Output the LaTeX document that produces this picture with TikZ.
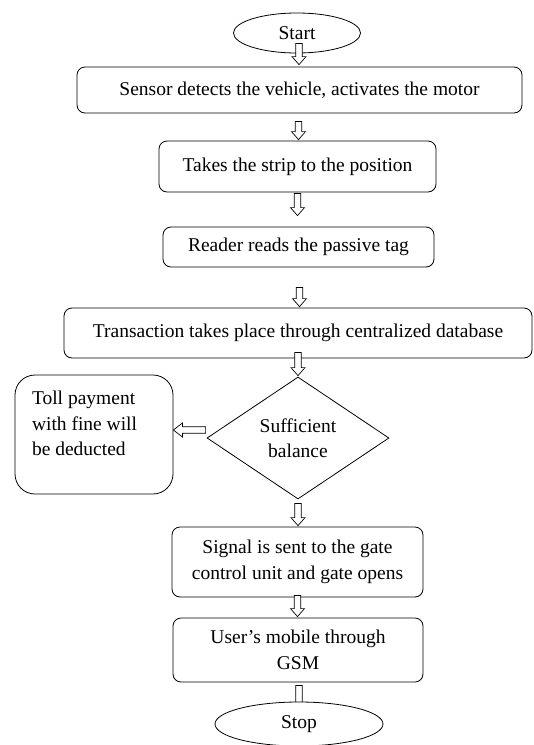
\documentclass[tikz,border=0pt]{standalone}
\usepackage{fontspec}
\setmainfont{Liberation Serif}
\usetikzlibrary{shapes.geometric,calc}
\pgfdeclarelayer{behind}
\pgfsetlayers{behind,main}

\begin{document}
\begin{tikzpicture}[x=1pt,y=-1pt,line width=0.8pt,
  every node/.style={font=\fontsize{19.5}{25.5}\selectfont},
  procbox/.style={draw, rounded corners=8pt, align=center, inner sep=0pt, fill=white},
  terminal/.style={draw, ellipse, inner sep=0pt, fill=white},
  decision/.style={draw, diamond, inner sep=0pt, align=center, fill=white},
  notebox/.style={draw, rounded corners=20pt, inner xsep=17pt, inner ysep=16pt, fill=white},
  downarrow/.style={draw, fill=white, line width=0.7pt,
    to path={let \p1=(\tikztostart), \p2=(\tikztotarget) in
      (\x1-3.2pt,\y1) -- (\x1+3.2pt,\y1) -- (\x1+3.2pt,\y2+8pt) -- (\x1+7pt,\y2+8pt)
      -- (\x1,\y2) -- (\x1-7pt,\y2+8pt) -- (\x1-3.2pt,\y2+8pt) -- cycle}},
  leftarrow/.style={draw, fill=white, line width=0.7pt,
    to path={let \p1=(\tikztostart), \p2=(\tikztotarget) in
      (\x1,\y1-3.2pt) -- (\x2+9pt,\y1-3.2pt) -- (\x2+9pt,\y1-7pt) -- (\x2,\y1)
      -- (\x2+9pt,\y1+7pt) -- (\x2+9pt,\y1+3.2pt) -- (\x1,\y1+3.2pt) -- cycle}}]

\useasboundingbox (0,0) rectangle (534,745);

% process steps
\node[terminal, minimum width=127pt, minimum height=40pt] (start) at (297,33) {Start};
\node[procbox, minimum width=445pt, minimum height=46pt] (sensor) at (299.5,90)
  {Sensor detects the vehicle, activates the motor};
\node[procbox, minimum width=277pt, minimum height=51pt] (strip) at (297.5,166.5)
  {Takes the strip to the position};
\node[procbox, minimum width=271pt, minimum height=40pt] (reader) at (298.5,247)
  {Reader reads the passive tag};
\node[procbox, minimum width=468pt, minimum height=50pt] (trans) at (298,333)
  {Transaction takes place through centralized database};
\node[decision, minimum width=182pt, minimum height=122pt] (bal) at (298,438)
  {Sufficient\\balance};
\node[notebox] (toll) at (94,434.5)
  {\parbox[c][87pt][t]{124pt}{\raggedright Toll payment\\with fine will\\be deducted}};
\node[procbox, minimum width=251pt, minimum height=70pt] (signal) at (297.5,562)
  {Signal is sent to the gate\\control unit and gate opens};
\node[procbox, minimum width=250pt, minimum height=64pt] (user) at (298,650)
  {User’s mobile through\\GSM};
\node[terminal, minimum width=168pt, minimum height=44pt] (stop) at (299,724) {Stop};

% block arrows between the steps
\draw[downarrow] ($(start.south)+(2,-10)$) to ($(sensor.north)+(-0.5,-2)$);
\draw[downarrow] ($(sensor.south)+(-1,8)$) to ($(strip.north)+(0,-1)$);
\draw[downarrow] ($(strip.south)+(0,1)$) to ($(reader.north)+(0,-11)$);
\draw[downarrow] ($(reader.south)+(1,20)$) to ($(trans.north)+(0,-1)$);
\draw[downarrow] ($(trans.south)+(0,-6)$) to ($(bal.north)+(0,-1)$);
\draw[leftarrow] ($(bal.west)+(-1,-8)$) to (toll.east);
\draw[downarrow] ($(bal.south)+(0,4)$) to ($(signal.north)+(0,-1)$);
\draw[downarrow] ($(signal.south)+(0,-2)$) to ($(user.north)+(0,-1)$);
\begin{pgfonlayer}{behind}
  \draw[downarrow] ($(user.south)+(1,3)$) to ($(stop.north)+(0,12)$);
\end{pgfonlayer}
\end{tikzpicture}
\end{document}
